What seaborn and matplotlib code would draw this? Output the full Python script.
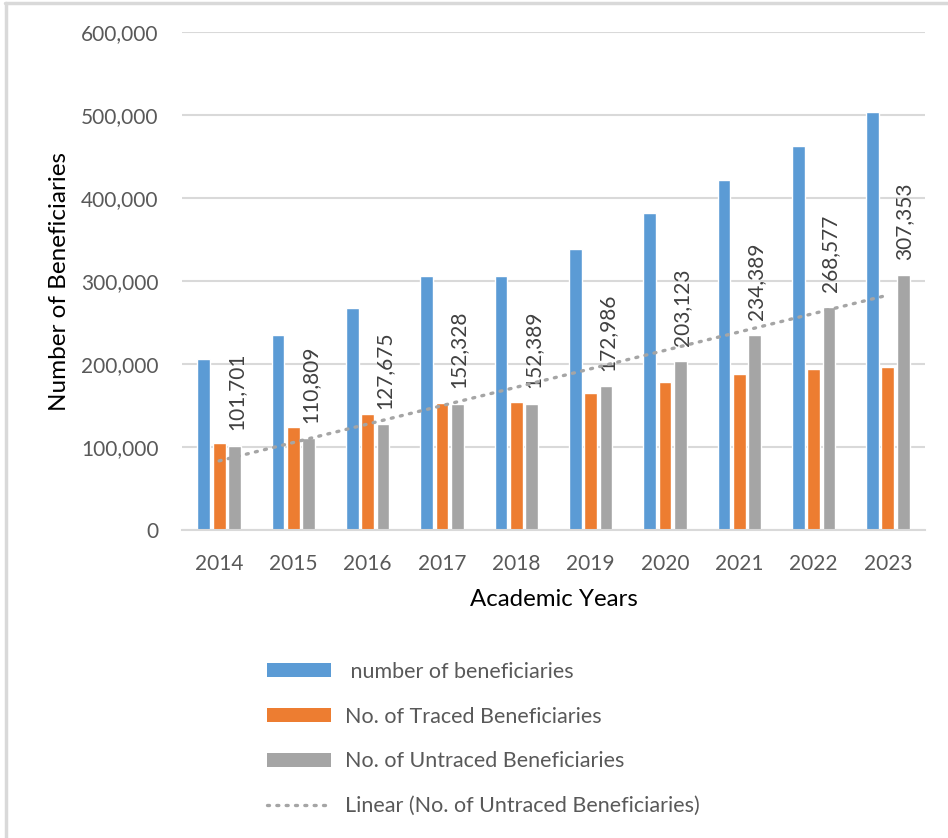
import numpy as np
import pandas as pd
import matplotlib
matplotlib.use("Agg")
import matplotlib.pyplot as plt
from matplotlib.lines import Line2D
from matplotlib.patches import Patch
import seaborn as sns

# Academic years and beneficiary counts
years = ["2014", "2015", "2016", "2017", "2018", "2019", "2020", "2021", "2022", "2023"]
total_beneficiaries = [206100, 234500, 267100, 305700, 306400, 338000, 381500, 421900, 462200, 504200]
traced_beneficiaries = [104400, 123700, 139400, 153400, 154000, 165000, 178400, 187500, 193600, 196800]
untraced_beneficiaries = [101701, 110809, 127675, 152328, 152389, 172986, 203123, 234389, 268577, 307353]

series_names = [" number of beneficiaries", "No. of Traced Beneficiaries", "No. of Untraced Beneficiaries"]
trend_name = "Linear (No. of Untraced Beneficiaries)"
colors = ["#5b9bd5", "#ed7d31", "#a5a5a5"]

df = pd.DataFrame({
    "year": years * 3,
    "value": total_beneficiaries + traced_beneficiaries + untraced_beneficiaries,
    "series": [series_names[0]] * 10 + [series_names[1]] * 10 + [series_names[2]] * 10,
})

sns.set_theme(style="white")
plt.rcParams["font.family"] = ["Lato", "DejaVu Sans"]

W, H = 948, 838
fig = plt.figure(figsize=(W / 100, H / 100), dpi=100)
ax = fig.add_axes([182 / W, 1 - 530 / H, (925 - 182) / W, (530 - 32) / H])

sns.barplot(data=df, x="year", y="value", hue="series", hue_order=series_names,
            palette=colors, width=0.62, gap=0.17, saturation=1, ax=ax,
            legend=False, errorbar=None)

ax.set_ylim(0, 600000)
ax.set_xlim(-0.5, len(years) - 0.5)
ax.set_yticks(np.arange(0, 600001, 100000))
ax.yaxis.set_major_formatter(matplotlib.ticker.FuncFormatter(lambda v, p: f"{int(v):,}"))
ax.grid(axis="y", color="#d9d9d9", linewidth=1.5)
ax.set_axisbelow(True)
for s in ["left", "right", "top"]:
    ax.spines[s].set_visible(False)
ax.spines["bottom"].set_color("#d9d9d9")
ax.spines["bottom"].set_linewidth(1.5)
ax.tick_params(axis="both", length=0, labelsize=15, colors="#595959")
ax.tick_params(axis="y", pad=17)
ax.tick_params(axis="x", pad=17)

ax.set_ylabel("Number of Beneficiaries", fontsize=17.5, color="#000000", labelpad=8)
ax.set_xlabel("Academic Years", fontsize=17.3, color="#000000", labelpad=11)

# Value labels above the untraced bars
for bar, v in zip(ax.containers[2], untraced_beneficiaries):
    ax.annotate(f"{v:,}", (bar.get_x() + bar.get_width() / 2, bar.get_height()),
                xytext=(1, 11), textcoords="offset points", rotation=90,
                ha="center", va="bottom", fontsize=15, color="#404040")

# Linear trendline of the untraced series
xs = np.arange(len(years))
slope, intercept = np.polyfit(xs, untraced_beneficiaries, 1)
ax.plot(xs, slope * xs + intercept, color="#a5a5a5", linewidth=2.4,
        linestyle=(0, (0.6, 2.2)), dash_capstyle="round", zorder=5)

handles = [Patch(facecolor=c, edgecolor="none") for c in colors]
handles.append(Line2D([], [], color="#a5a5a5", linewidth=2.4,
                      linestyle=(0, (0.6, 2.2)), dash_capstyle="round"))
fig.legend(handles, series_names + [trend_name], loc="upper left",
           bbox_to_anchor=(256 / W, 1 - 651 / H), frameon=False, fontsize=15.5,
           labelcolor="#595959", handlelength=3.0, handleheight=0.6,
           handletextpad=0.65, labelspacing=1.15, borderpad=0)

# Outer frame
fig.add_artist(Line2D([5 / W, 1], [1 - 3 / H, 1 - 3 / H], color="#d9d9d9", linewidth=2.5,
                      transform=fig.transFigure))
fig.add_artist(Line2D([6 / W, 6 / W], [1 - 3 / H, 0], color="#d9d9d9", linewidth=2.5,
                      transform=fig.transFigure))

fig.savefig("out.png", dpi=100, facecolor="white")
